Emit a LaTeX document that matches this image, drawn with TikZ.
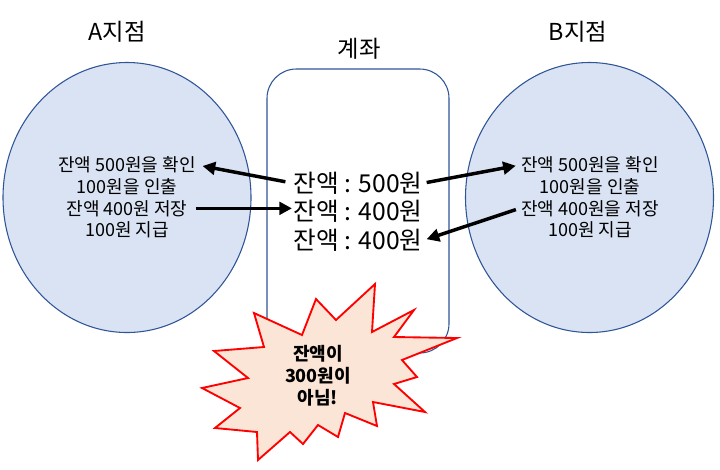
\documentclass[tikz,border=0pt]{standalone}
\usepackage{fontspec}
\setmainfont{Noto Sans CJK KR}
\usepackage{tikz}
\usetikzlibrary{shapes.geometric,positioning,arrows.meta}
\definecolor{branchfill}{HTML}{DAE3F3}
\definecolor{branchline}{HTML}{2F5597}
\definecolor{burstfill}{HTML}{FBE5D6}
\definecolor{burstline}{HTML}{FF0000}
\tikzstyle{branch} = [ellipse, minimum width=186pt, minimum height=202.5pt, draw=branchline, fill=branchfill, line width=0.8pt]
\tikzstyle{account} = [rectangle, rounded corners=22pt, minimum width=136.5pt, minimum height=213pt, draw=branchline, fill=white, line width=0.8pt]
\tikzstyle{title} = [font=\fontsize{17.5}{21}\selectfont, inner sep=0pt]
\tikzstyle{tline} = [font=\fontsize{13.5}{16}\selectfont, inner sep=1pt]
\tikzstyle{balance} = [font=\fontsize{18.5}{20}\selectfont, inner sep=1pt]
\tikzstyle{arrow} = [line width=2.6pt, -{Triangle[length=9.5pt,width=9.5pt]}]
\tikzstyle{burst} = [draw=burstline, fill=burstfill, line width=1.4pt, line join=miter]

\begin{document}
\begin{tikzpicture}[x=0.75pt, y=-0.75pt]
\useasboundingbox (0,0) rectangle (720,469);
% branches and account
\node (brA) [branch] at (127,197.5) {};
\node (brB) [branch] at (589.5,197.5) {};
\node (acct) [account] at (358,211) {};
\node (titleA) [title] at (117,32) {A지점};
\node (titleB) [title] at (578,32) {B지점};
\node (titleC) [title] at (359,49) {계좌};
% A side
\node (a1) [tline] at (127,165) {잔액 500원을 확인};
\node (a2) [tline, below of=a1, node distance=16.25pt] {100원을 인출};
\node (a3) [tline, below of=a2, node distance=16.25pt] {잔액 400원 저장};
\node (a4) [tline, below of=a3, node distance=16.25pt] {100원 지급};
% B side
\node (b1) [tline] at (590,165) {잔액 500원을 확인};
\node (b2) [tline, below of=b1, node distance=16.25pt] {100원을 인출};
\node (b3) [tline, below of=b2, node distance=16.25pt] {잔액 400원을 저장};
\node (b4) [tline, below of=b3, node distance=16.25pt] {100원 지급};
% account balance
\node (c1) [balance] at (358,183) {잔액 : 500원};
\node (c2) [balance, below of=c1, node distance=21.4pt] {잔액 : 400원};
\node (c3) [balance, below of=c2, node distance=21.4pt] {잔액 : 400원};
\draw [arrow, shorten <=5pt, shorten >=4pt] (c1.west) -- (a1.east);
\draw [arrow, shorten <=5pt] (a3.east) -- (a3.east -| c2.west);
\draw [arrow, shorten <=2pt, shorten >=3pt] (c1.east) -- (b1.west);
\draw [arrow, shorten <=3pt, shorten >=2pt] (b3.west) -- (c3.east);
% explosion
\draw [burst] (316,299) -- (336,320) -- (375,284) -- (372,332) -- (414,310)
  -- (394,337) -- (457,338) -- (402,360) -- (417,377) -- (394,384)
  -- (425,412) -- (373,402) -- (377,426) -- (345,413) -- (338,437)
  -- (318,425) -- (303,444) -- (290,432) -- (258,460) -- (257,432)
  -- (215,428) -- (240,408) -- (202,388) -- (248,378) -- (214,351)
  -- (264,347) -- (254,313) -- (302,335) -- cycle;
\node (warn) [align=center, font=\bfseries\fontsize{13.5}{16.5}\selectfont] at (318,376) {잔액이\\300원이\\아님!};
\end{tikzpicture}
\end{document}
